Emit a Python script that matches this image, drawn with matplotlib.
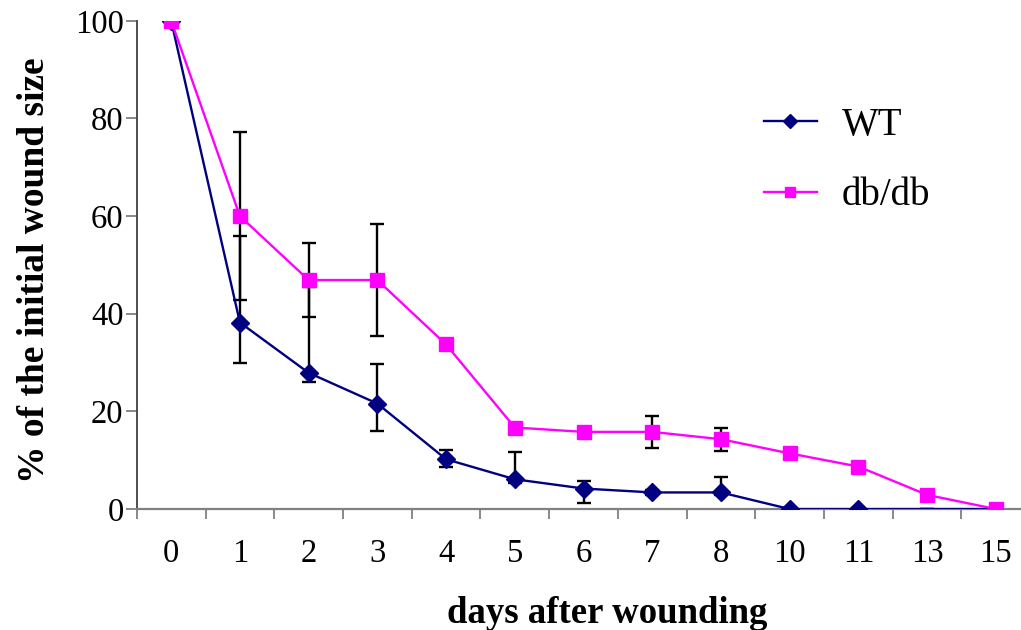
import numpy as np
import matplotlib
matplotlib.use("Agg")
import matplotlib.pyplot as plt

# Datos
dias = ["0", "1", "2", "3", "4", "5", "6", "7", "8", "10", "11", "13", "15"]

wt = [100, 38.2, 27.9, 21.6, 10.2, 6.1, 4.2, 3.4, 3.4, 0, 0, 0, 0]
wt_err_inf = [0, 8.3, 1.9, 5.6, 1.6, 0.8, 3.0, 0.5, 0.5, 0, 0, 0, 0]
wt_err_sup = [0, 17.7, 17.6, 8.2, 1.8, 5.6, 1.6, 0.5, 3.2, 0.3, 0.3, 0, 0]

dbdb = [100, 60.0, 46.9, 46.9, 33.7, 16.7, 15.8, 15.8, 14.3, 11.4, 8.7, 2.9, 0]
dbdb_err = [0, 17.2, 7.5, 11.5, 1.1, 0.4, 1.1, 3.3, 2.4, 0.5, 0.5, 0.4, 0]

plt.rcParams['font.family'] = ['Liberation Serif', 'DejaVu Serif']

fig = plt.figure(figsize=(10.21, 6.30), dpi=100)
ax = fig.add_axes([0.134, 0.192, 0.875, 0.775])

x = np.arange(len(dias))

# Barras de error
ax.errorbar(x, wt, yerr=[wt_err_inf, wt_err_sup], fmt='none', ecolor='black',
            elinewidth=1.7, capsize=4.7, capthick=1.7, zorder=2)
ax.errorbar(x, dbdb, yerr=dbdb_err, fmt='none', ecolor='black',
            elinewidth=1.7, capsize=4.7, capthick=1.7, zorder=2)

# Series
ax.plot(x, wt, color='#000080', linewidth=1.7, marker='D', markersize=9,
        markevery=list(range(11)), label='WT', zorder=3)
ax.plot(x, dbdb, color='#FF00FF', linewidth=1.7, marker='s', markersize=9.5,
        label='db/db', zorder=4)

ax.set_xlim(-0.5, len(dias) - 0.5)
ax.set_ylim(0, 100)
ax.set_yticks([0, 20, 40, 60, 80, 100])
ax.set_xticks(x)
ax.set_xticklabels(dias)
ax.set_xticks(np.arange(-0.5, len(dias), 1), minor=True)
ax.tick_params(axis='x', which='major', length=0, labelsize=23.5, pad=21)
ax.tick_params(axis='x', which='minor', length=7, width=1.3, color='#808080')
ax.tick_params(axis='y', length=8, width=1.3, color='#808080', labelsize=23.5, pad=1.5)

for lado in ['top', 'right']:
    ax.spines[lado].set_visible(False)
ax.spines['bottom'].set_color('#808080')
ax.spines['bottom'].set_linewidth(1.6)
ax.spines['left'].set_color('#404040')
ax.spines['left'].set_linewidth(1.3)

ax.set_xlabel('days after wounding', fontsize=26.5, fontweight='bold')
ax.xaxis.set_label_coords(0.527, -0.178)
ax.set_ylabel('% of the initial wound size', fontsize=27, fontweight='bold')
ax.yaxis.set_label_coords(-0.095, 0.49)

ax.legend(loc='upper left', bbox_to_anchor=(0.663, 0.895), frameon=False, fontsize=28,
          handlelength=1.35, handletextpad=0.65, labelspacing=0.85, markerscale=0.75)

fig.savefig('out.png', dpi=100)
